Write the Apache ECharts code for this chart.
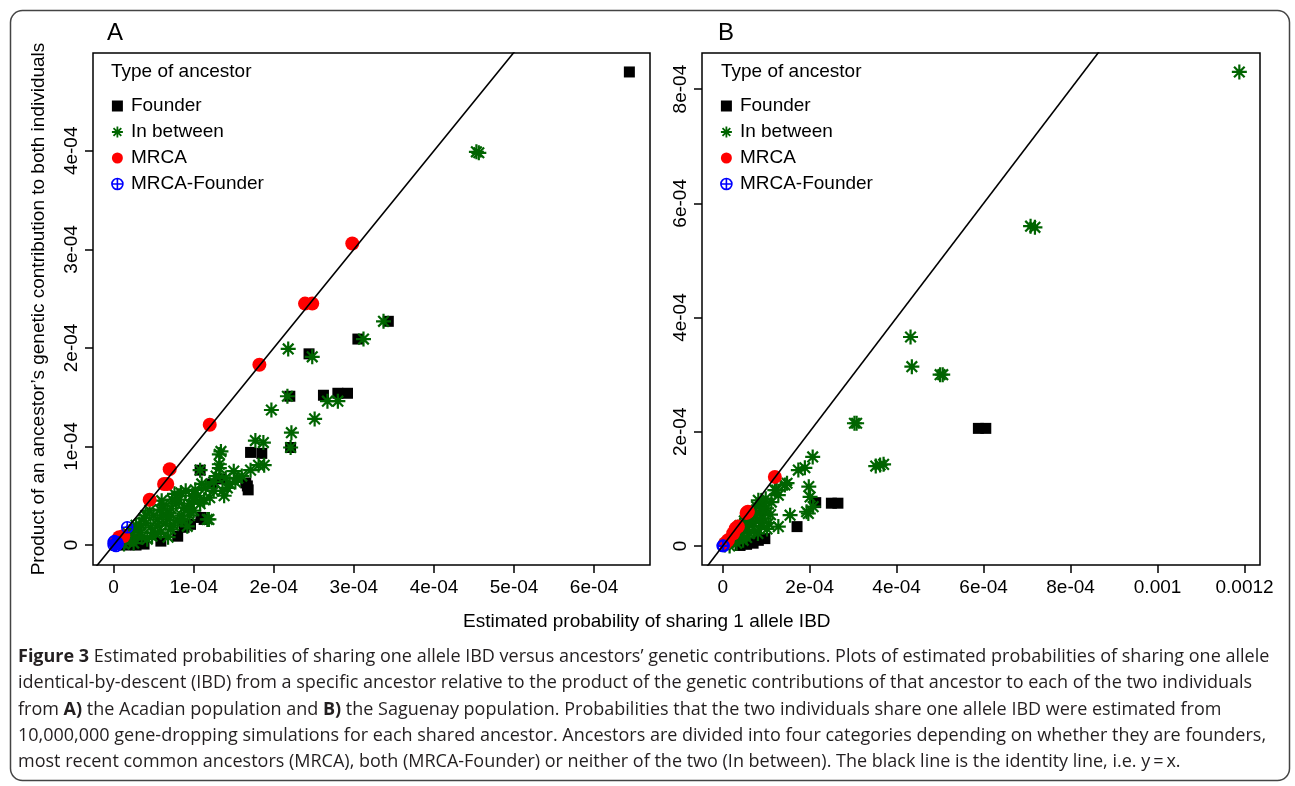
<!DOCTYPE html>
<html>
<head>
<meta charset="utf-8">
<title>Figure 3 - IBD vs genetic contribution</title>
<script src="https://cdn.jsdelivr.net/npm/echarts@6.0.0/dist/echarts.min.js"></script>
<style>
  html, body { margin: 0; padding: 0; background: #fff; }
  #chart { width: 1295px; height: 786px; }
</style>
</head>
<body>
<div id="chart"></div>
<script>
// all point values below are in units of 1e-4
// [estimated P(share 1 allele IBD), product of genetic contributions]
const UNIT = 1e-4;

// A) Acadian population
const founderA = [
  [6.44, 4.80], [3.43, 2.27], [3.05, 2.09], [2.44, 1.94], [2.62, 1.52], [2.80, 1.54],
  [2.92, 1.54], [2.20, 1.51], [2.21, 0.99], [1.71, 0.94], [1.85, 0.93], [1.34, 0.67],
  [1.23, 0.62], [1.65, 0.63], [1.68, 0.56], [1.67, 0.60], [1.08, 0.76], [1.13, 0.26],
  [1.09, 0.28], [0.96, 0.21], [0.88, 0.18], [0.80, 0.09], [0.59, 0.04], [0.38, 0.01],
  [0.28, 0.00], [0.15, 0.00]
];
const betweenA = [
  [4.53, 3.99], [4.56, 3.98], [3.37, 2.27], [3.12, 2.09], [2.18, 1.99], [2.48, 1.91],
  [2.17, 1.51], [1.97, 1.37], [2.67, 1.46], [2.80, 1.46], [2.51, 1.28], [2.22, 1.14],
  [2.21, 0.99], [1.77, 1.06], [1.87, 1.04], [1.34, 0.95], [1.32, 0.82], [1.71, 0.76],
  [1.88, 0.81], [1.81, 0.81], [1.55, 0.68], [1.38, 0.50], [1.19, 0.26],
  [1.08, 0.76], [1.32, 0.92], [1.32, 0.78], [1.50, 0.75], [1.36, 0.55], [0.84, 0.53],
  [0.98, 0.50], [0.73, 0.46], [1.13, 0.46], [0.88, 0.38], [0.67, 0.33], [1.17, 0.26],
  [0.55, 0.26], [0.80, 0.25], [0.46, 0.18], [0.92, 0.19], [0.34, 0.13], [0.59, 0.13],
  [0.23, 0.06], [0.42, 0.06], [0.13, 0.01], [0.71, 0.16], [0.62, 0.40], [0.78, 0.42],
  [0.95, 0.42], [1.05, 0.50], [0.50, 0.30], [0.40, 0.22], [0.30, 0.15], [0.20, 0.10],
  [0.10, 0.05], [0.65, 0.22], [0.85, 0.30], [1.00, 0.35], [0.55, 0.20], [0.35, 0.08],
  [0.08, 0.02], [0.05, 0.03], [1.20, 0.48], [1.25, 0.55], [0.90, 0.55], [0.76, 0.52],
  [1.45, 0.62], [1.60, 0.70], [1.40, 0.68], [1.10, 0.62], [0.28, 0.20], [0.18, 0.12],
  [0.15, 0.04], [0.38, 0.27], [0.60, 0.45], [0.45, 0.35], [1.02, 0.56], [1.15, 0.58],
  [0.95, 0.30], [0.52, 0.12], [0.68, 0.08], [0.25, 0.02], [0.48, 0.09], [0.62, 0.30],
  [0.72, 0.37], [0.82, 0.46], [0.93, 0.36], [1.08, 0.42], [0.58, 0.36], [0.32, 0.21],
  [0.22, 0.14], [0.40, 0.30], [0.75, 0.20], [0.86, 0.26], [1.25, 0.64], [1.28, 0.70],
  [1.42, 0.58], [1.52, 0.64], [1.00, 0.45], [0.70, 0.28]
];
const mrcaA = [
  [2.98, 3.06], [2.39, 2.45], [2.48, 2.45], [1.82, 1.83], [1.20, 1.22], [0.70, 0.77],
  [0.63, 0.62], [0.67, 0.62], [0.45, 0.46], [0.07, 0.08], [0.12, 0.09], [0.03, 0.03]
];
const mrcaFounderA = [
  [0.17, 0.18], [0.02, 0.01], [0.00, 0.00], [0.04, 0.03], [0.01, 0.04], [0.03, -0.01],
  [0.05, 0.01], [0.00, 0.03]
];

// B) Saguenay population
const founderB = [
  [5.88, 2.06], [6.05, 2.06], [2.50, 0.75], [2.65, 0.75], [2.14, 0.76], [1.71, 0.34],
  [0.97, 0.13], [0.82, 0.10], [0.70, 0.05], [0.55, 0.03], [0.40, 0.01]
];
const betweenB = [
  [11.88, 8.30], [7.08, 5.60], [7.18, 5.58], [4.32, 3.66], [4.35, 3.14], [5.00, 3.00],
  [5.06, 3.00], [3.03, 2.15], [3.08, 2.15], [3.52, 1.40], [3.62, 1.42], [3.70, 1.43],
  [2.07, 1.56], [1.74, 1.33], [1.89, 1.37], [1.48, 1.10], [1.98, 1.04], [2.08, 0.69],
  [1.97, 0.57], [1.43, 1.07], [1.20, 0.98], [1.24, 0.98], [1.28, 0.89], [2.01, 0.86],
  [1.93, 0.60], [1.55, 0.54], [1.28, 0.34], [1.01, 0.66], [0.85, 0.57], [1.05, 0.40],
  [0.70, 0.40], [0.62, 0.22], [0.47, 0.10], [0.81, 0.22], [0.32, 0.05], [0.16, 0.00],
  [0.93, 0.48], [0.78, 0.69], [0.55, 0.34], [1.12, 0.77], [0.90, 0.75], [0.65, 0.50],
  [0.45, 0.30], [0.35, 0.22], [0.25, 0.15], [0.12, 0.06], [0.95, 0.62], [0.75, 0.55],
  [0.60, 0.42], [1.10, 0.55], [0.88, 0.35], [0.72, 0.28], [0.40, 0.18], [0.20, 0.08],
  [0.05, 0.02], [0.99, 0.83], [0.82, 0.80], [0.50, 0.44], [0.40, 0.36], [0.68, 0.60],
  [0.30, 0.26], [0.55, 0.15], [0.85, 0.45], [1.02, 0.30]
];
const mrcaB = [
  [1.20, 1.21], [0.58, 0.60], [0.55, 0.58], [0.35, 0.34], [0.30, 0.31], [0.24, 0.22],
  [0.12, 0.10], [0.06, 0.05]
];
const mrcaFounderB = [
  [0.00, 0.00], [0.01, 0.01], [0.02, 0.00]
];

const xTicksA = [0, 1e-4, 2e-4, 3e-4, 4e-4, 5e-4, 6e-4];
const xLabelsA = ['0', '1e-04', '2e-04', '3e-04', '4e-04', '5e-04', '6e-04'];
const yTicksA = [0, 1e-4, 2e-4, 3e-4, 4e-4];
const yLabelsA = ['0', '1e-04', '2e-04', '3e-04', '4e-04'];
const xTicksB = [0, 2e-4, 4e-4, 6e-4, 8e-4, 1e-3, 1.2e-3];
const xLabelsB = ['0', '2e-04', '4e-04', '6e-04', '8e-04', '0.001', '0.0012'];
const yTicksB = [0, 2e-4, 4e-4, 6e-4, 8e-4];
const yLabelsB = ['0', '2e-04', '4e-04', '6e-04', '8e-04'];

// y = x, ends well outside both panels (clipped by the grid)
const identityLine = [[-1e-3, -1e-3], [2e-3, 2e-3]];

const typeNames = ['Founder', 'In between', 'MRCA', 'MRCA-Founder'];

const captionLines = [
  '{b|Figure 3} Estimated probabilities of sharing one allele IBD versus ancestors\u2019 genetic contributions. Plots of estimated probabilities of sharing one allele',
  'identical-by-descent (IBD) from a specific ancestor relative to the product of the genetic contributions of that ancestor to each of the two individuals',
  'from {b|A)} the Acadian population and {b|B)} the Saguenay population. Probabilities that the two individuals share one allele IBD were estimated from',
  '10,000,000 gene-dropping simulations for each shared ancestor. Ancestors are divided into four categories depending on whether they are founders,',
  'most recent common ancestors (MRCA), both (MRCA-Founder) or neither of the two (In between). The black line is the identity line, i.e. y\u2009=\u2009x.'
];

const FONT = '"Liberation Sans", Arial, sans-serif';
const CAPTION_FONT = '"Open Sans", sans-serif';

const SYMBOLS = {
  'Founder': 'rect',
  'In between': 'path://M0,-10L0,10M-10,0L10,0M-7.07,-7.07L7.07,7.07M-7.07,7.07L7.07,-7.07',
  'MRCA': 'circle',
  'MRCA-Founder': 'path://M10,0A10,10,0,1,1,-10,0A10,10,0,1,1,10,0ZM-10,0L10,0M0,-10L0,10'
};
const STYLES = {
  'Founder': { size: 11, itemStyle: { color: '#000', opacity: 1 } },
  'In between': { size: 15, itemStyle: { color: '#006400', borderColor: '#006400', borderWidth: 2.2, opacity: 1 } },
  'MRCA': { size: 14, itemStyle: { color: '#ff0000', opacity: 1 } },
  'MRCA-Founder': { size: 11, itemStyle: { color: 'rgba(0,0,0,0)', borderColor: '#0000ff', borderWidth: 1.6, opacity: 1 } }
};

// R style axis range: data range stretched by 4% on each side
function rRange(vals) {
  const lo = Math.min(...vals), hi = Math.max(...vals);
  const d = (hi - lo) * 0.04;
  return [lo - d, hi + d];
}

function labelFor(v, ticks, labels) {
  let best = 0;
  ticks.forEach((t, i) => { if (Math.abs(t - v) < Math.abs(ticks[best] - v)) best = i; });
  return labels[best];
}

function scaled(pts) {
  return pts.map(p => [p[0] * UNIT, p[1] * UNIT]);
}

const panels = [
  { sets: [founderA, betweenA, mrcaA, mrcaFounderA], xt: xTicksA, xl: xLabelsA, yt: yTicksA, yl: yLabelsA,
    grid: { left: 93, top: 53, width: 557, height: 512 } },
  { sets: [founderB, betweenB, mrcaB, mrcaFounderB], xt: xTicksB, xl: xLabelsB, yt: yTicksB, yl: yLabelsB,
    grid: { left: 702, top: 53, width: 558, height: 512 } }
];

const grids = [], xAxes = [], yAxes = [], series = [];

panels.forEach((p, gi) => {
  const all = [].concat(...p.sets);
  const xr = rRange(all.map(d => d[0] * UNIT));
  const yr = rRange(all.map(d => d[1] * UNIT));

  grids.push(Object.assign({ show: true, borderColor: '#000', borderWidth: 1.5, backgroundColor: 'transparent' }, p.grid));

  xAxes.push({
    type: 'value', gridIndex: gi, min: xr[0], max: xr[1],
    axisLine: { show: false, onZero: false },
    splitLine: { show: false },
    axisTick: { show: true, inside: false, length: 8, customValues: p.xt, lineStyle: { color: '#000', width: 1.5 } },
    axisLabel: { show: true, customValues: p.xt, margin: 13, color: '#000', fontSize: 19, fontFamily: FONT,
      formatter: v => labelFor(v, p.xt, p.xl) }
  });

  yAxes.push({
    type: 'value', gridIndex: gi, min: yr[0], max: yr[1],
    axisLine: { show: false, onZero: false },
    splitLine: { show: false },
    axisTick: { show: true, inside: false, length: 8, customValues: p.yt, lineStyle: { color: '#000', width: 1.5 } },
    axisLabel: { show: true, customValues: p.yt, rotate: 90, margin: 12, color: '#000', fontSize: 19, fontFamily: FONT,
      formatter: v => labelFor(v, p.yt, p.yl) },
    name: gi === 0 ? 'Product of an ancestor\u2019s genetic contribution to both individuals' : '',
    nameLocation: 'middle', nameGap: 45, nameRotate: 90,
    nameTextStyle: { color: '#000', fontSize: 19, fontFamily: FONT }
  });

  typeNames.forEach((name, k) => {
    const st = STYLES[name];
    series.push({
      type: 'scatter', name, xAxisIndex: gi, yAxisIndex: gi,
      symbol: SYMBOLS[name], symbolSize: st.size,
      itemStyle: st.itemStyle,
      data: scaled(p.sets[k]),
      silent: true, z: 2
    });
  });

  series.push({
    type: 'line', name: 'identity', xAxisIndex: gi, yAxisIndex: gi,
    data: identityLine, symbol: 'none', clip: true, silent: true, z: 3,
    lineStyle: { color: '#000', width: 1.6 }
  });
});

const legendData = typeNames.map(name => ({
  name, icon: SYMBOLS[name],
  itemStyle: Object.assign({}, STYLES[name].itemStyle,
    name === 'In between' ? { borderWidth: 1.8 } : {})
}));

function legendAt(left) {
  return {
    orient: 'vertical', left, top: 91, itemWidth: 11, itemHeight: 11, itemGap: 6,
    selectedMode: false, data: legendData,
    textStyle: { color: '#000', fontSize: 19, fontFamily: FONT, lineHeight: 20, padding: [0, 0, 0, 3] }
  };
}

const caption = captionLines.map((line, i) => ({
  type: 'text', left: 18, top: 648 + i * 26.2, silent: true,
  style: {
    text: line, fill: '#231f20', font: '18px ' + CAPTION_FONT,
    rich: { b: { fontWeight: 'bold', fontSize: 18, fontFamily: CAPTION_FONT, fill: '#231f20' } }
  }
}));

const option = {
  backgroundColor: '#fff',
  animation: false,
  title: [
    { text: 'A', left: 107, top: 21, padding: 0, textStyle: { fontSize: 24, fontWeight: 'normal', fontFamily: FONT, color: '#000' } },
    { text: 'B', left: 718, top: 21, padding: 0, textStyle: { fontSize: 24, fontWeight: 'normal', fontFamily: FONT, color: '#000' } },
    { text: 'Type of ancestor', left: 111, top: 62, padding: 0, textStyle: { fontSize: 19, fontWeight: 'normal', fontFamily: FONT, color: '#000' } },
    { text: 'Type of ancestor', left: 721, top: 62, padding: 0, textStyle: { fontSize: 19, fontWeight: 'normal', fontFamily: FONT, color: '#000' } }
  ],
  legend: [legendAt(106), legendAt(715)],
  grid: grids,
  xAxis: xAxes,
  yAxis: yAxes,
  series,
  graphic: [
    { type: 'rect', left: 8, top: 8, silent: true, z: -1,
      shape: { width: 1279, height: 770, r: 12 },
      style: { fill: 'none', stroke: '#444', lineWidth: 1.5 } },
    { type: 'text', left: 463, top: 612, silent: true,
      style: { text: 'Estimated probability of sharing 1 allele IBD', fill: '#000', font: '19px ' + FONT } }
  ].concat(caption)
};

const chart = echarts.init(document.getElementById('chart'), null, { renderer: 'canvas' });
chart.setOption(option);
</script>
</body>
</html>
